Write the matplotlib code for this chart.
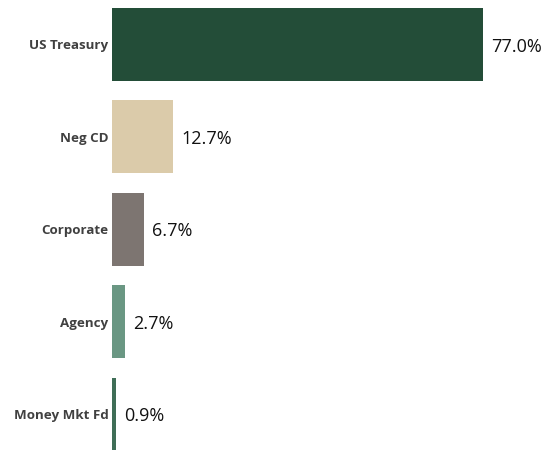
import matplotlib.pyplot as plt

# portfolio allocation by sector (percent)
sectors = ["US Treasury", "Neg CD", "Corporate", "Agency", "Money Mkt Fd"]
shares = [77.0, 12.7, 6.7, 2.7, 0.9]
colors = ["#234d38", "#dbcbaa", "#7d7571", "#6a9783", "#3f6e57"]

fig = plt.figure(figsize=(5.46, 4.5), dpi=100)
ax = fig.add_axes([112 / 546, 0, 1 - 112 / 546, 1])

pos = list(range(len(sectors)))
ax.barh(pos, shares, height=0.79, color=colors)

for y, v in zip(pos, shares):
    ax.annotate(f"{v:.1f}%", (v, y), xytext=(8, -2), textcoords="offset pixels",
                va="center", ha="left", fontsize=13, family="Open Sans",
                color="#111111")

ax.set_xlim(0, 434 / 4.82)
ax.set_ylim((450 - 44.5) / 92.4, -44.5 / 92.4)
ax.set_yticks(pos)
ax.set_yticklabels(sectors, fontsize=9.6, fontweight="bold", family="Open Sans",
                   color="#404040")
ax.tick_params(axis="y", length=0, pad=2.5)
ax.set_xticks([])
for s in ax.spines.values():
    s.set_visible(False)

fig.savefig("out.png", dpi=100)
